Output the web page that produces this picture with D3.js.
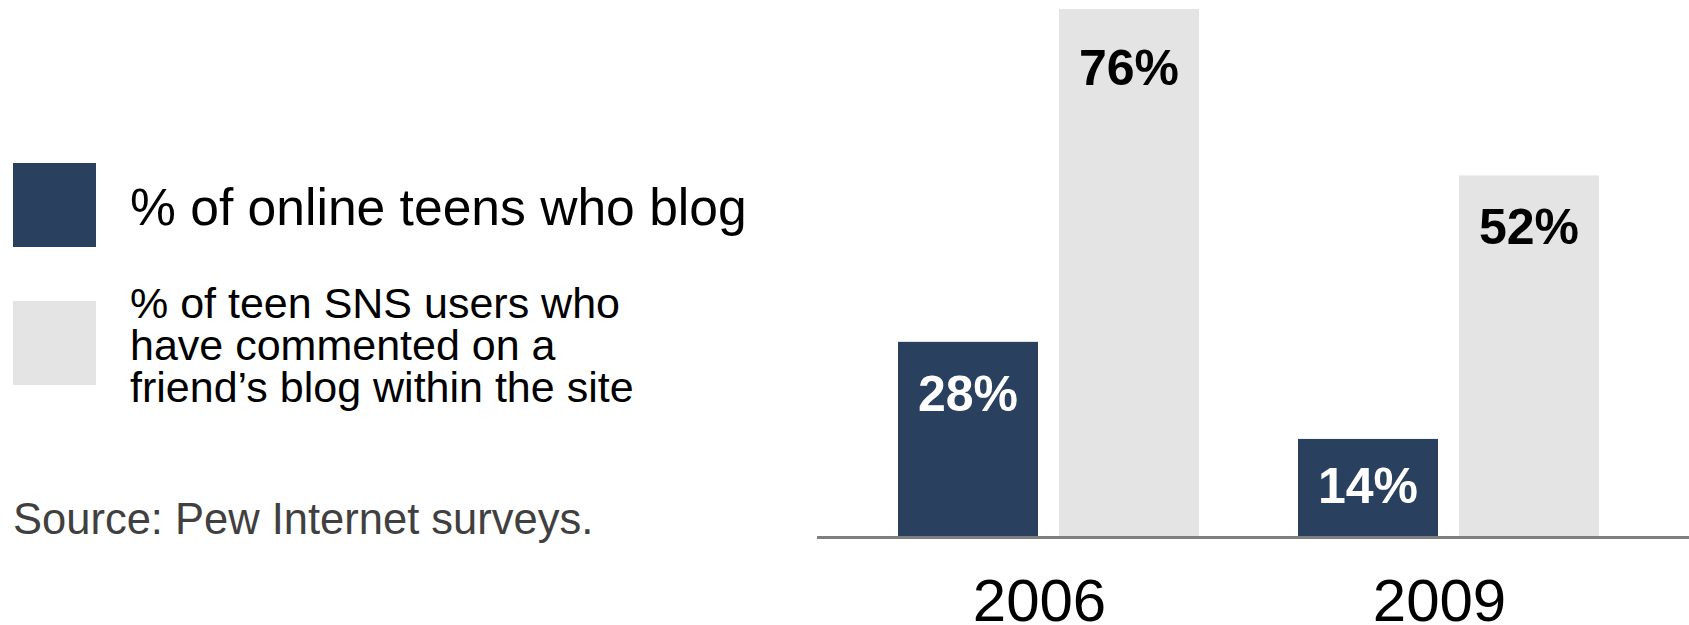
<!DOCTYPE html>
<html>
<head>
<meta charset="utf-8">
<script src="https://cdn.jsdelivr.net/npm/d3@7"></script>
<style>
  html, body { margin: 0; padding: 0; background: #fff; }
  svg { display: block; font-family: "Liberation Sans", Arial, Helvetica, sans-serif; }
</style>
</head>
<body>
<svg id="chart" width="1689" height="625"></svg>
<script>
// ---- data ----
const years = ["2006", "2009"];
const seriesKeys = ["blog", "comment"];
const seriesNames = [
  ["% of online teens who blog"],
  ["% of teen SNS users who", "have commented on a", "friend\u2019s blog within the site"]
];
const blogValues = [28, 14];
const commentValues = [76, 52];
const valueLabels = [["28%", "14%"], ["76%", "52%"]];
const sourceNote = "Source: Pew Internet surveys.";

// ---- styles ----
const colors = { blog: "#29405e", comment: "#e4e4e4" };
const labelColors = { blog: "#ffffff", comment: "#000000" };
// vertical offset of each value label below its bar top (style only)
const labelOffsets = [[69, 64.5], [75.5, 69]];

const svg = d3.select("#chart");
const W = 1689, H = 625;

const baseY = 536;
const y = d3.scaleLinear().domain([0, 76]).range([baseY, 9]);

const x0 = d3.scaleBand().domain(years).range([848.5, 1648.5])
  .paddingInner(0.2475).paddingOuter(0.12375);
const x1 = d3.scaleBand().domain(seriesKeys).range([0, x0.bandwidth()])
  .paddingInner(0.1304).paddingOuter(0);

const rows = years.map((yr, i) => ({
  year: yr,
  values: [
    { key: "blog", value: blogValues[i], label: valueLabels[0][i], off: labelOffsets[0][i] },
    { key: "comment", value: commentValues[i], label: valueLabels[1][i], off: labelOffsets[1][i] }
  ]
}));

// bars
const groups = svg.append("g").selectAll("g.grp")
  .data(rows).join("g")
  .attr("class", "grp")
  .attr("transform", d => `translate(${x0(d.year)},0)`);

groups.selectAll("rect")
  .data(d => d.values).join("rect")
  .attr("x", d => x1(d.key))
  .attr("y", d => y(d.value))
  .attr("width", x1.bandwidth())
  .attr("height", d => baseY - y(d.value))
  .attr("fill", d => colors[d.key]);

groups.selectAll("text.val")
  .data(d => d.values).join("text")
  .attr("class", "val")
  .attr("x", d => x1(d.key) + x1.bandwidth() / 2)
  .attr("y", d => y(d.value) + d.off)
  .attr("text-anchor", "middle")
  .attr("font-size", 50)
  .attr("font-weight", "bold")
  .attr("fill", d => labelColors[d.key])
  .text(d => d.label);

// baseline axis
const axis = d3.axisBottom(x0).tickSize(0).tickPadding(0);
const gAxis = svg.append("g").attr("transform", `translate(0,${baseY + 1.5})`).call(axis);
gAxis.select(".domain").remove();
gAxis.append("line")
  .attr("x1", 817).attr("x2", W)
  .attr("y1", 0).attr("y2", 0)
  .attr("stroke", "#7f7f7f").attr("stroke-width", 3);
gAxis.selectAll(".tick text")
  .attr("font-size", 60)
  .attr("font-family", "'Liberation Sans', Arial, sans-serif")
  .attr("fill", "#000")
  .attr("dx", -9)
  .attr("dy", 0)
  .attr("y", 83);

// legend
const legend = svg.append("g");
const swatchY = [163, 301];
const legendTextY = [[225], [318, 360, 402]];
const legendFont = [51.6, 43];
seriesKeys.forEach((k, i) => {
  legend.append("rect")
    .attr("x", 13).attr("y", swatchY[i])
    .attr("width", 83).attr("height", 84)
    .attr("fill", colors[k]);
  seriesNames[i].forEach((line, j) => {
    legend.append("text")
      .attr("x", 130).attr("y", legendTextY[i][j])
      .attr("font-size", legendFont[i])
      .attr("fill", "#000")
      .text(line);
  });
});

svg.append("text")
  .attr("x", 13).attr("y", 534)
  .attr("font-size", 43.5)
  .attr("fill", "#404040")
  .text(sourceNote);
</script>
</body>
</html>
